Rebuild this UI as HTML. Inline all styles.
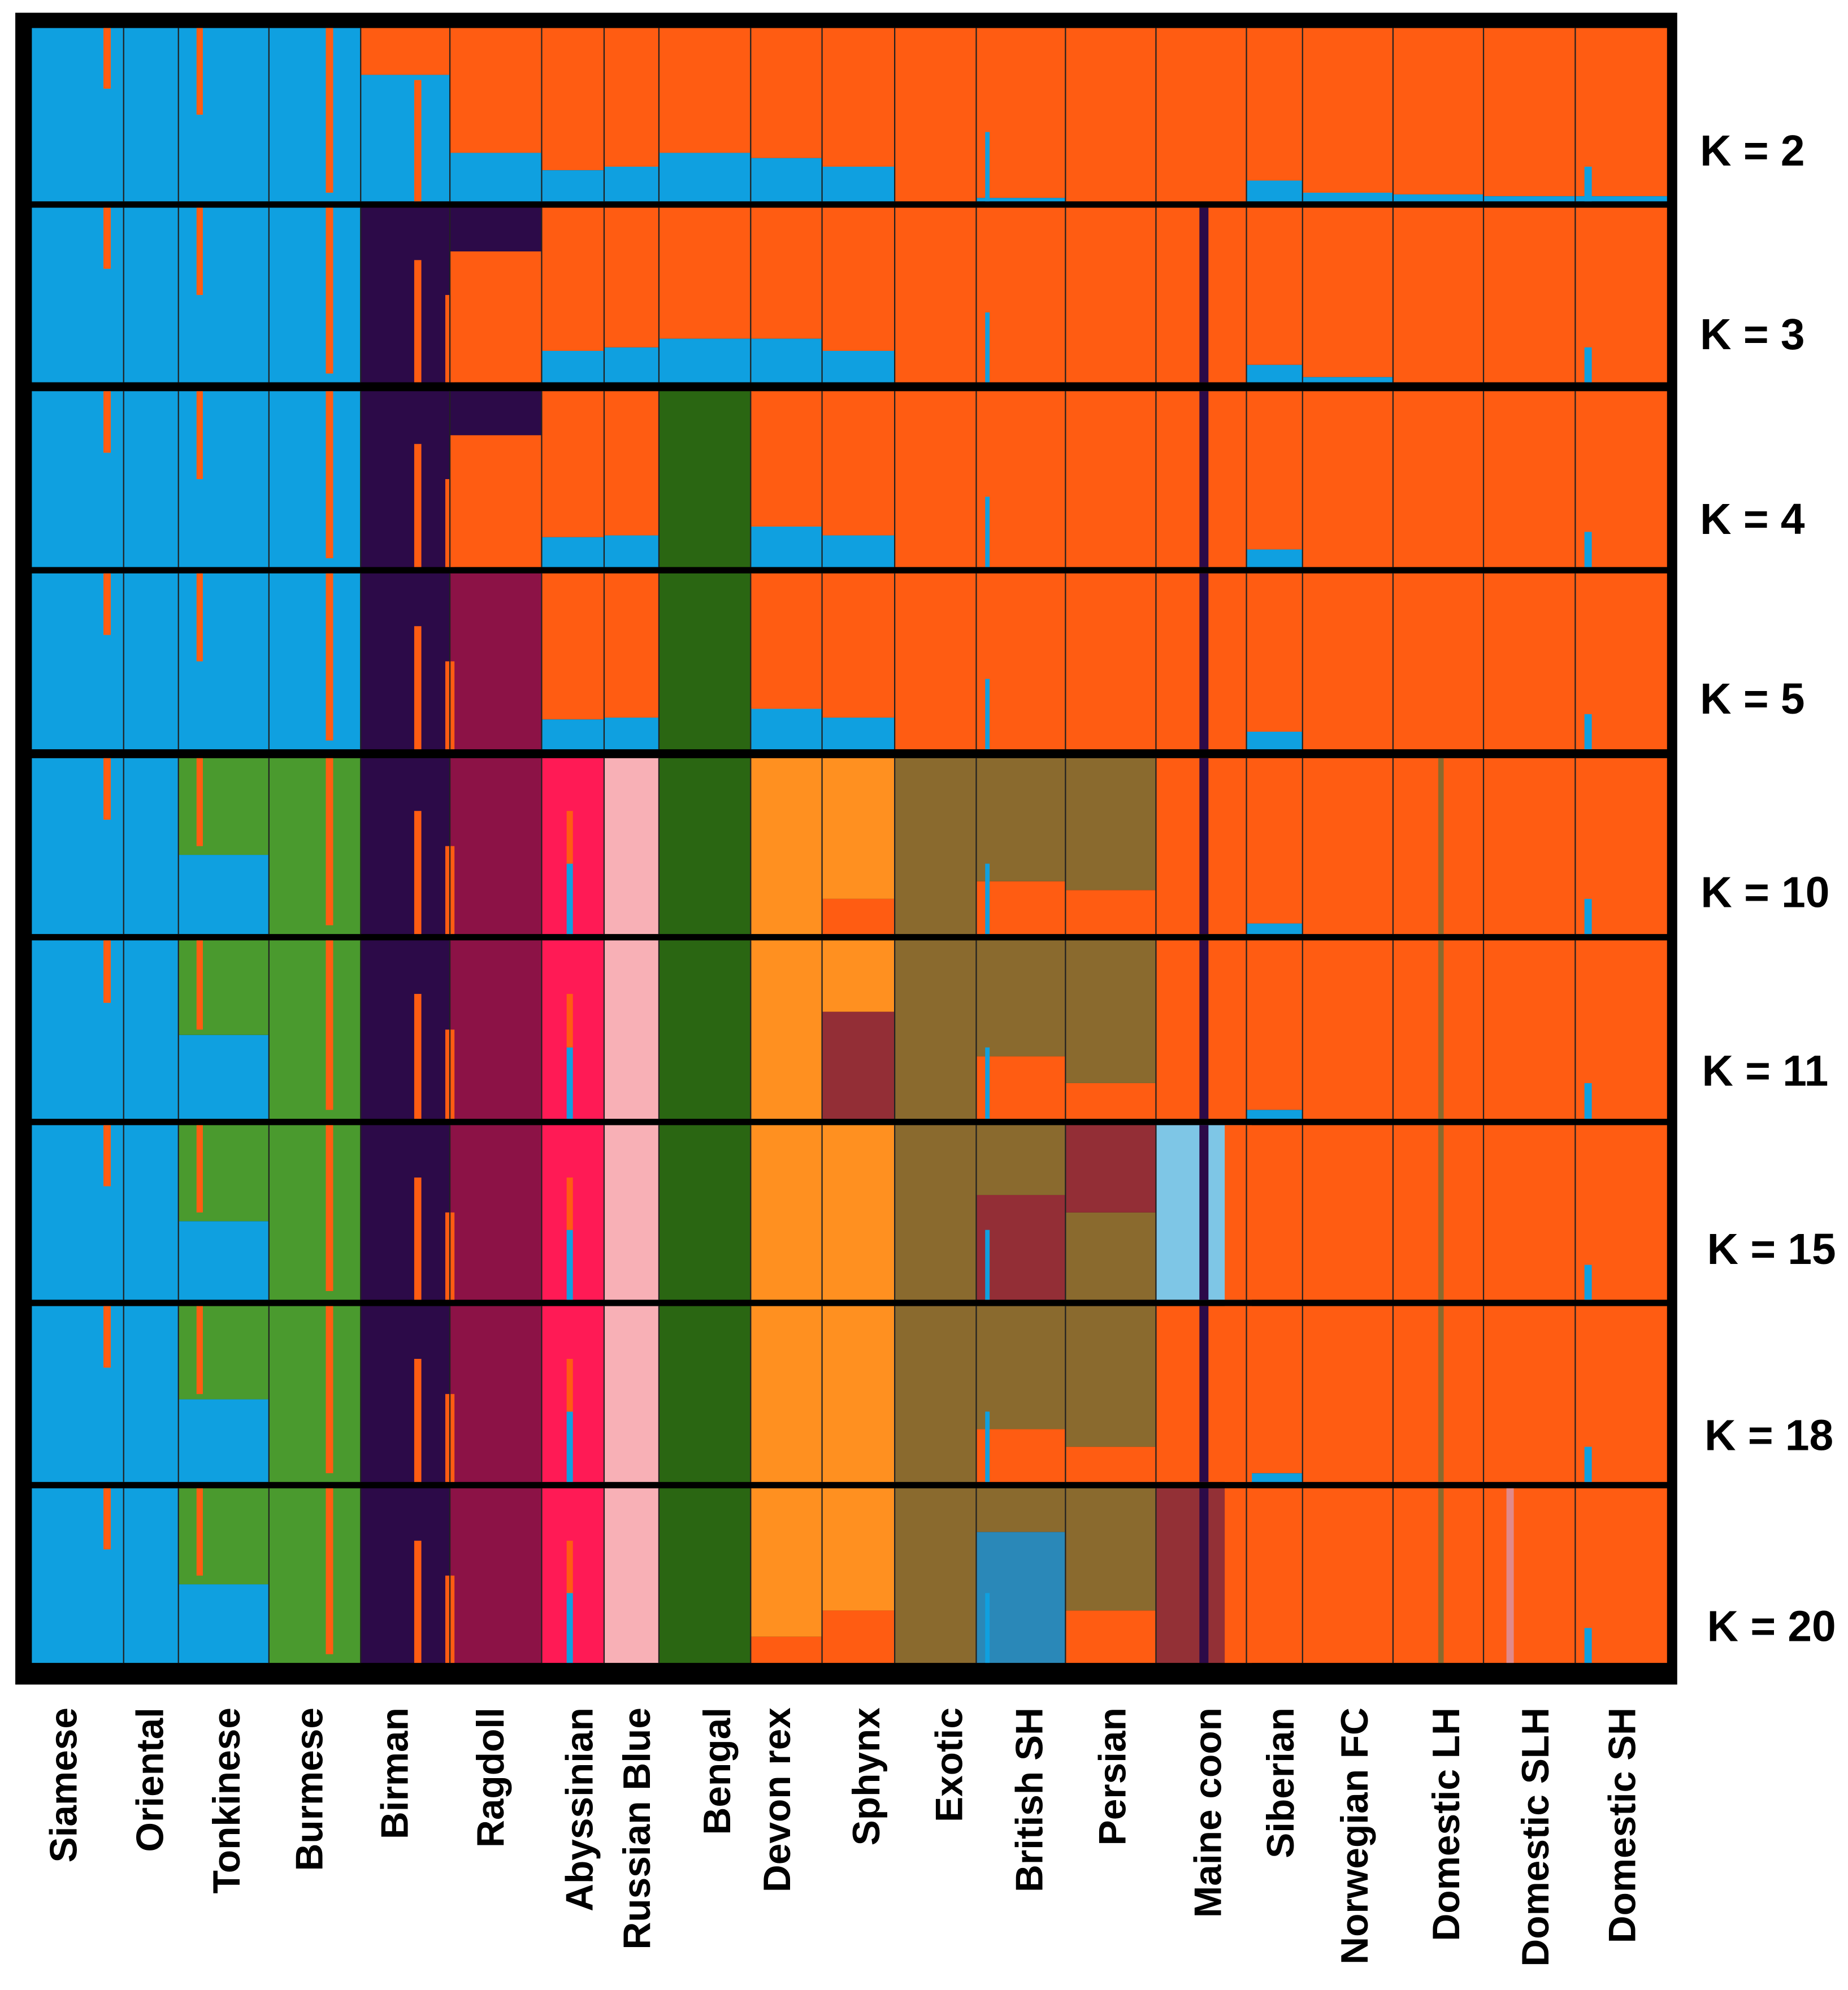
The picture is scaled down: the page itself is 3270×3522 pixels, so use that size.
<!DOCTYPE html>
<html><head><meta charset="utf-8"><style>
html,body{margin:0;padding:0;background:#fff;}
svg{display:block;}
text{font-family:"Liberation Sans",sans-serif;font-weight:bold;fill:#000;}
</style></head><body>
<svg id="chart" width="3270" height="3522" viewBox="0 0 1450 1561.7" preserveAspectRatio="none" xmlns="http://www.w3.org/2000/svg">
<rect x="0" y="0" width="1450" height="1562" fill="#fff"/>
<rect x="12" y="10" width="1304" height="1312" fill="#000"/>
<g id="bars"></g><g id="labels"></g>
</svg>
<script>
const breeds=["Siamese","Oriental","Tonkinese","Burmese","Birman","Ragdoll","Abyssinian","Russian Blue","Bengal","Devon rex","Sphynx","Exotic","British SH","Persian","Maine coon","Siberian","Norwegian FC","Domestic LH","Domestic SLH","Domestic SH"];
const breedBounds=[25,97,140,211,283,353,425,474,517,589,645,702,766,836,907,978,1022,1093,1164,1236,1308];
const labelX=[50,118,178,243,310,385,455,500,563,610,680,745,808,873,948,1005,1063,1135,1205,1273];
const kLabels=["K = 2","K = 3","K = 4","K = 5","K = 10","K = 11","K = 15","K = 18","K = 20"];
const rowTop=[22,163,307,450,595,738,883,1025,1168];
const rowBot=[158,300,445,588,733,878,1020,1163,1305];
const kLabelX=[1375,1375,1375,1375,1385,1385,1390,1388,1390];
const kLabelY=[130,274,419,560,712,852,992,1138,1288];
const colors={B:"#0fa0e0",O:"#ff5c12",P:"#2c0a48",M:"#8c1246",G:"#2a6612",L:"#4a9a2e",A:"#ff1a55",R:"#f8b0b6",D:"#ff9020",E:"#8a6a2e",S:"#932e36",C:"#7ec6e6",T:"#2a88b8",N:"#933036",Y:"#e08a8a"};
const comp=[
["B","B","B","B","B:0.73,O","B:0.28,O","B:0.18,O","B:0.2,O","B:0.28,O","B:0.25,O","B:0.2,O","O","B:0.02,O","O","O","B:0.12,O","B:0.05,O","B:0.04,O","B:0.03,O","B:0.03,O"],
["B","B","B","B","P","O:0.75,P","B:0.18,O","B:0.2,O","B:0.25,O","B:0.25,O","B:0.18,O","O","O","O","O","B:0.1,O","B:0.03,O","O","O","O"],
["B","B","B","B","P","O:0.75,P","B:0.17,O","B:0.18,O","G","B:0.23,O","B:0.18,O","O","O","O","O","B:0.1,O","O","O","O","O"],
["B","B","B","B","P","M","B:0.17,O","B:0.18,O","G","B:0.23,O","B:0.18,O","O","O","O","O","B:0.1,O","O","O","O","O"],
["B","B","B:0.45,L","L","P","M","A","R","G","D","O:0.2,D","E","O:0.3,E","O:0.25,E","O","B:0.06,O","O","O","O","O"],
["B","B","B:0.47,L","L","P","M","A","R","G","D","S:0.6,D","E","O:0.35,E","O:0.2,E","O","B:0.05,O","O","O","O","O"],
["B","B","B:0.45,L","L","P","M","A","R","G","D","D","E","S:0.6,E","E:0.5,S","C","O","O","O","O","O"],
["B","B","B:0.47,L","L","P","M","A","R","G","D","D","E","O:0.3,E","O:0.2,E","O","B:0.05,O","O","O","O","O"],
["B","B","B:0.45,L","L","P","M","A","R","G","O:0.15,D","O:0.3,D","E","T:0.75,E","O:0.3,E","N","O","O","O","O","O"]
];
const stripes=[
[0,0.78,0.08,"O",0.0,0.35,0],[2,0.2,0.07,"O",0.0,0.5,0],[3,0.62,0.08,"O",0.0,0.95,0],
[4,0.6,0.08,"O",0.3,1.0,0],[5,-0.05,0.1,"O",0.5,1.0,1],[14,0.48,0.1,"P",0.0,1.0,1],
[14,0.76,0.3,"O",0.0,1.0,6],[17,0.5,0.06,"E",0.0,1.0,4],[19,0.1,0.08,"B",0.8,1.0,0],
[12,0.1,0.05,"B",0.6,1.0,0],[6,0.4,0.1,"B",0.6,1.0,4],[6,0.4,0.1,"O",0.3,0.6,4],[18,0.25,0.08,"Y",0.0,1.0,8]
];
const NS="http://www.w3.org/2000/svg";
const bars=document.getElementById("bars"),labels=document.getElementById("labels");
function mk(tag,attrs,parent){const e=document.createElementNS(NS,tag);for(const k in attrs)e.setAttribute(k,attrs[k]);parent.appendChild(e);return e;}
function yScale(r,f){return rowBot[r]-f*(rowBot[r]-rowTop[r]);}
comp.forEach((row,r)=>{
  row.forEach((spec,b)=>{
    const x0=breedBounds[b],x1=breedBounds[b+1];
    const parts=spec.split(",");let acc=0;
    parts.forEach((p,i)=>{
      const [c,fs]=p.split(":");const f=(i===parts.length-1)?1-acc:parseFloat(fs);
      const el=mk("rect",{x:x0,y:yScale(r,acc+f),width:x1-x0,height:f*(rowBot[r]-rowTop[r]),fill:colors[c]},bars);
      
      
      acc+=f;
    });
  });
  stripes.forEach(s=>{
    if(r<s[6])return;
    const x0=breedBounds[s[0]],w=breedBounds[s[0]+1]-x0;
    const el=mk("rect",{x:x0+s[1]*w,y:yScale(r,1-s[4]),width:s[2]*w,height:(s[5]-s[4])*(rowBot[r]-rowTop[r]),fill:colors[s[3]]},bars);
    
    
  });
  for(let b=1;b<breedBounds.length-1;b++){
    const l=mk("line",{x1:breedBounds[b],x2:breedBounds[b],y1:rowTop[r],y2:rowBot[r],stroke:"#222","stroke-width":1},bars);
    
    
  }
  const t=mk("text",{x:kLabelX[r],y:kLabelY[r],"font-size":34,"text-anchor":"middle"},labels);
  t.textContent=kLabels[r];
  
  
});
breeds.forEach((n,i)=>{
  const t=mk("text",{x:0,y:0,"font-size":30,"text-anchor":"end",transform:`translate(${labelX[i]+10},1340) rotate(-90)`},labels);
  t.textContent=n;
  
  
});
</script>
</body></html>
